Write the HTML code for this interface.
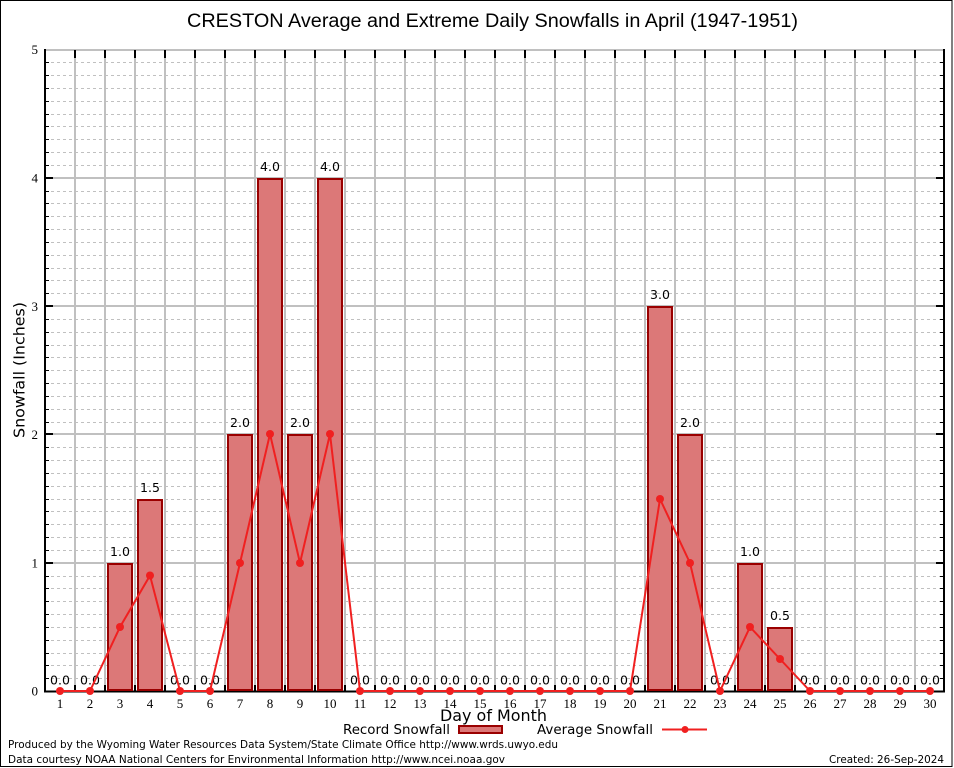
<!DOCTYPE html>
<html><head><meta charset="utf-8"><style>
html,body{margin:0;padding:0;background:#fff;}
svg{display:block;}
</style></head><body>
<svg xmlns="http://www.w3.org/2000/svg" width="954" height="768" viewBox="0 0 954 768">
<rect x="0" y="0" width="954" height="768" fill="#fff"/>
<rect x="0.5" y="0.5" width="951.5" height="766" fill="none" stroke="#000" stroke-width="1"/>

<text x="187" y="27" font-family="Liberation Sans, Arial, sans-serif" font-size="19" textLength="611" lengthAdjust="spacingAndGlyphs" fill="#000">CRESTON Average and Extreme Daily Snowfalls in April (1947-1951)</text>

<path fill="none" stroke="#c0c0c0" stroke-width="1" stroke-dasharray="3,3" d="M45 678.5H944 M45 665.5H944 M45 653.5H944 M45 640.5H944 M45 627.5H944 M45 614.5H944 M45 601.5H944 M45 588.5H944 M45 576.5H944 M45 550.5H944 M45 537.5H944 M45 524.5H944 M45 511.5H944 M45 499.5H944 M45 486.5H944 M45 473.5H944 M45 460.5H944 M45 447.5H944 M45 422.5H944 M45 409.5H944 M45 396.5H944 M45 383.5H944 M45 370.5H944 M45 357.5H944 M45 345.5H944 M45 332.5H944 M45 319.5H944 M45 293.5H944 M45 280.5H944 M45 268.5H944 M45 255.5H944 M45 242.5H944 M45 229.5H944 M45 216.5H944 M45 203.5H944 M45 191.5H944 M45 165.5H944 M45 152.5H944 M45 139.5H944 M45 126.5H944 M45 114.5H944 M45 101.5H944 M45 88.5H944 M45 75.5H944 M45 62.5H944"/>

<path fill="none" stroke="#c0c0c0" stroke-width="2" d="M45 563H944 M45 434H944 M45 306H944 M45 178H944 M45 50H944"/>

<path fill="none" stroke="#c0c0c0" stroke-width="2" d="M75 50V691 M105 50V691 M135 50V691 M165 50V691 M195 50V691 M225 50V691 M255 50V691 M285 50V691 M315 50V691 M345 50V691 M375 50V691 M405 50V691 M435 50V691 M465 50V691 M495 50V691 M525 50V691 M555 50V691 M585 50V691 M615 50V691 M645 50V691 M675 50V691 M705 50V691 M735 50V691 M765 50V691 M795 50V691 M825 50V691 M855 50V691 M885 50V691 M915 50V691"/>

<path fill="none" stroke="#000" stroke-width="2" d="M75 50V58 M105 50V58 M135 50V58 M165 50V58 M195 50V58 M225 50V58 M255 50V58 M285 50V58 M315 50V58 M345 50V58 M375 50V58 M405 50V58 M435 50V58 M465 50V58 M495 50V58 M525 50V58 M555 50V58 M585 50V58 M615 50V58 M645 50V58 M675 50V58 M705 50V58 M735 50V58 M765 50V58 M795 50V58 M825 50V58 M855 50V58 M885 50V58 M915 50V58 M75 685V691 M105 685V691 M135 685V691 M165 685V691 M195 685V691 M225 685V691 M255 685V691 M285 685V691 M315 685V691 M345 685V691 M375 685V691 M405 685V691 M435 685V691 M465 685V691 M495 685V691 M525 685V691 M555 685V691 M585 685V691 M615 685V691 M645 685V691 M675 685V691 M705 685V691 M735 685V691 M765 685V691 M795 685V691 M825 685V691 M855 685V691 M885 685V691 M915 685V691"/>

<path fill="none" stroke="#000" stroke-width="1" d="M45 678.5H49 M45 665.5H49 M45 653.5H49 M45 640.5H49 M45 627.5H49 M45 614.5H49 M45 601.5H49 M45 588.5H49 M45 576.5H49 M45 550.5H49 M45 537.5H49 M45 524.5H49 M45 511.5H49 M45 499.5H49 M45 486.5H49 M45 473.5H49 M45 460.5H49 M45 447.5H49 M45 422.5H49 M45 409.5H49 M45 396.5H49 M45 383.5H49 M45 370.5H49 M45 357.5H49 M45 345.5H49 M45 332.5H49 M45 319.5H49 M45 293.5H49 M45 280.5H49 M45 268.5H49 M45 255.5H49 M45 242.5H49 M45 229.5H49 M45 216.5H49 M45 203.5H49 M45 191.5H49 M45 165.5H49 M45 152.5H49 M45 139.5H49 M45 126.5H49 M45 114.5H49 M45 101.5H49 M45 88.5H49 M45 75.5H49 M45 62.5H49 M940 678.5H944 M940 665.5H944 M940 653.5H944 M940 640.5H944 M940 627.5H944 M940 614.5H944 M940 601.5H944 M940 588.5H944 M940 576.5H944 M940 550.5H944 M940 537.5H944 M940 524.5H944 M940 511.5H944 M940 499.5H944 M940 486.5H944 M940 473.5H944 M940 460.5H944 M940 447.5H944 M940 422.5H944 M940 409.5H944 M940 396.5H944 M940 383.5H944 M940 370.5H944 M940 357.5H944 M940 345.5H944 M940 332.5H944 M940 319.5H944 M940 293.5H944 M940 280.5H944 M940 268.5H944 M940 255.5H944 M940 242.5H944 M940 229.5H944 M940 216.5H944 M940 203.5H944 M940 191.5H944 M940 165.5H944 M940 152.5H944 M940 139.5H944 M940 126.5H944 M940 114.5H944 M940 101.5H944 M940 88.5H944 M940 75.5H944 M940 62.5H944"/>

<path fill="none" stroke="#000" stroke-width="2" d="M45 563H53 M45 434H53 M45 306H53 M45 178H53 M936 563H944 M936 434H944 M936 306H944 M936 178H944"/>

<path fill="none" stroke="#000" stroke-width="2" d="M45 49V692 M44 691.5H945 M944 49V692"/>

<g fill="#dc7878" stroke="#9a0000" stroke-width="2">
<rect x="108" y="564" width="24" height="126"/>
<rect x="138" y="500" width="24" height="190"/>
<rect x="228" y="435" width="24" height="255"/>
<rect x="258" y="179" width="24" height="511"/>
<rect x="288" y="435" width="24" height="255"/>
<rect x="318" y="179" width="24" height="511"/>
<rect x="648" y="307" width="24" height="383"/>
<rect x="678" y="435" width="24" height="255"/>
<rect x="738" y="564" width="24" height="126"/>
<rect x="768" y="628" width="24" height="62"/>
</g>

<g font-family="DejaVu Sans, sans-serif" font-size="12.5" text-anchor="middle" fill="#000">
<text x="60" y="684.5">0.0</text>
<text x="90" y="684.5">0.0</text>
<text x="120" y="556">1.0</text>
<text x="150" y="492">1.5</text>
<text x="180" y="684.5">0.0</text>
<text x="210" y="684.5">0.0</text>
<text x="240" y="427">2.0</text>
<text x="270" y="171">4.0</text>
<text x="300" y="427">2.0</text>
<text x="330" y="171">4.0</text>
<text x="360" y="684.5">0.0</text>
<text x="390" y="684.5">0.0</text>
<text x="420" y="684.5">0.0</text>
<text x="450" y="684.5">0.0</text>
<text x="480" y="684.5">0.0</text>
<text x="510" y="684.5">0.0</text>
<text x="540" y="684.5">0.0</text>
<text x="570" y="684.5">0.0</text>
<text x="600" y="684.5">0.0</text>
<text x="630" y="684.5">0.0</text>
<text x="660" y="299">3.0</text>
<text x="690" y="427">2.0</text>
<text x="720" y="684.5">0.0</text>
<text x="750" y="556">1.0</text>
<text x="780" y="620">0.5</text>
<text x="810" y="684.5">0.0</text>
<text x="840" y="684.5">0.0</text>
<text x="870" y="684.5">0.0</text>
<text x="900" y="684.5">0.0</text>
<text x="930" y="684.5">0.0</text>
</g>

<polyline fill="none" stroke="#f02020" stroke-width="2" stroke-linejoin="round" points="60,691 90,691 120,627 150,575.5 180,691 210,691 240,563 270,434 300,563 330,434 360,691 390,691 420,691 450,691 480,691 510,691 540,691 570,691 600,691 630,691 660,499 690,563 720,691 750,627 780,659 810,691 840,691 870,691 900,691 930,691"/>
<g fill="#f02020">
<circle cx="60" cy="691" r="4"/><circle cx="90" cy="691" r="4"/><circle cx="120" cy="627" r="4"/><circle cx="150" cy="575.5" r="4"/>
<circle cx="180" cy="691" r="4"/><circle cx="210" cy="691" r="4"/><circle cx="240" cy="563" r="4"/><circle cx="270" cy="434" r="4"/>
<circle cx="300" cy="563" r="4"/><circle cx="330" cy="434" r="4"/><circle cx="360" cy="691" r="4"/><circle cx="390" cy="691" r="4"/>
<circle cx="420" cy="691" r="4"/><circle cx="450" cy="691" r="4"/><circle cx="480" cy="691" r="4"/><circle cx="510" cy="691" r="4"/>
<circle cx="540" cy="691" r="4"/><circle cx="570" cy="691" r="4"/><circle cx="600" cy="691" r="4"/><circle cx="630" cy="691" r="4"/>
<circle cx="660" cy="499" r="4"/><circle cx="690" cy="563" r="4"/><circle cx="720" cy="691" r="4"/><circle cx="750" cy="627" r="4"/>
<circle cx="780" cy="659" r="4"/><circle cx="810" cy="691" r="4"/><circle cx="840" cy="691" r="4"/><circle cx="870" cy="691" r="4"/>
<circle cx="900" cy="691" r="4"/><circle cx="930" cy="691" r="4"/>
</g>

<g font-family="Liberation Serif, serif" font-size="13" text-anchor="middle" fill="#000">
<text x="60" y="708">1</text><text x="90" y="708">2</text><text x="120" y="708">3</text><text x="150" y="708">4</text><text x="180" y="708">5</text>
<text x="210" y="708">6</text><text x="240" y="708">7</text><text x="270" y="708">8</text><text x="300" y="708">9</text><text x="330" y="708">10</text>
<text x="360" y="708">11</text><text x="390" y="708">12</text><text x="420" y="708">13</text><text x="450" y="708">14</text><text x="480" y="708">15</text>
<text x="510" y="708">16</text><text x="540" y="708">17</text><text x="570" y="708">18</text><text x="600" y="708">19</text><text x="630" y="708">20</text>
<text x="660" y="708">21</text><text x="690" y="708">22</text><text x="720" y="708">23</text><text x="750" y="708">24</text><text x="780" y="708">25</text>
<text x="810" y="708">26</text><text x="840" y="708">27</text><text x="870" y="708">28</text><text x="900" y="708">29</text><text x="930" y="708">30</text>
</g>

<g font-family="Liberation Serif, serif" font-size="13" text-anchor="end" fill="#000">
<text x="38" y="695.5">0</text>
<text x="38" y="567.5">1</text>
<text x="38" y="439">2</text>
<text x="38" y="311">3</text>
<text x="38" y="182.5">4</text>
<text x="38" y="54">5</text>
</g>

<text transform="translate(24.5,370) rotate(-90)" text-anchor="middle" font-family="DejaVu Sans, sans-serif" font-size="15" textLength="136" lengthAdjust="spacingAndGlyphs" fill="#000">Snowfall (Inches)</text>

<text x="440" y="721" font-family="DejaVu Sans, sans-serif" font-size="16" textLength="107" lengthAdjust="spacingAndGlyphs" fill="#000">Day of Month</text>

<text x="343" y="734" font-family="DejaVu Sans, sans-serif" font-size="13" textLength="107" lengthAdjust="spacingAndGlyphs" fill="#000">Record Snowfall</text>
<rect x="459" y="726" width="43" height="7" fill="#dc7878" stroke="#9a0000" stroke-width="2"/>
<text x="537" y="734" font-family="DejaVu Sans, sans-serif" font-size="13" textLength="116" lengthAdjust="spacingAndGlyphs" fill="#000">Average Snowfall</text>
<line x1="662" y1="729.5" x2="707" y2="729.5" stroke="#f02020" stroke-width="2"/>
<circle cx="685" cy="729.5" r="3.5" fill="#f02020"/>

<text x="8" y="748" font-family="DejaVu Sans, sans-serif" font-size="11" textLength="550" lengthAdjust="spacingAndGlyphs" fill="#000">Produced by the Wyoming Water Resources Data System/State Climate Office http://www.wrds.uwyo.edu</text>
<text x="8" y="763" font-family="DejaVu Sans, sans-serif" font-size="11" textLength="497" lengthAdjust="spacingAndGlyphs" fill="#000">Data courtesy NOAA National Centers for Environmental Information http://www.ncei.noaa.gov</text>
<text x="944" y="763" text-anchor="end" font-family="DejaVu Sans, sans-serif" font-size="11" textLength="115" lengthAdjust="spacingAndGlyphs" fill="#000">Created: 26-Sep-2024</text>
</svg>
</body></html>
